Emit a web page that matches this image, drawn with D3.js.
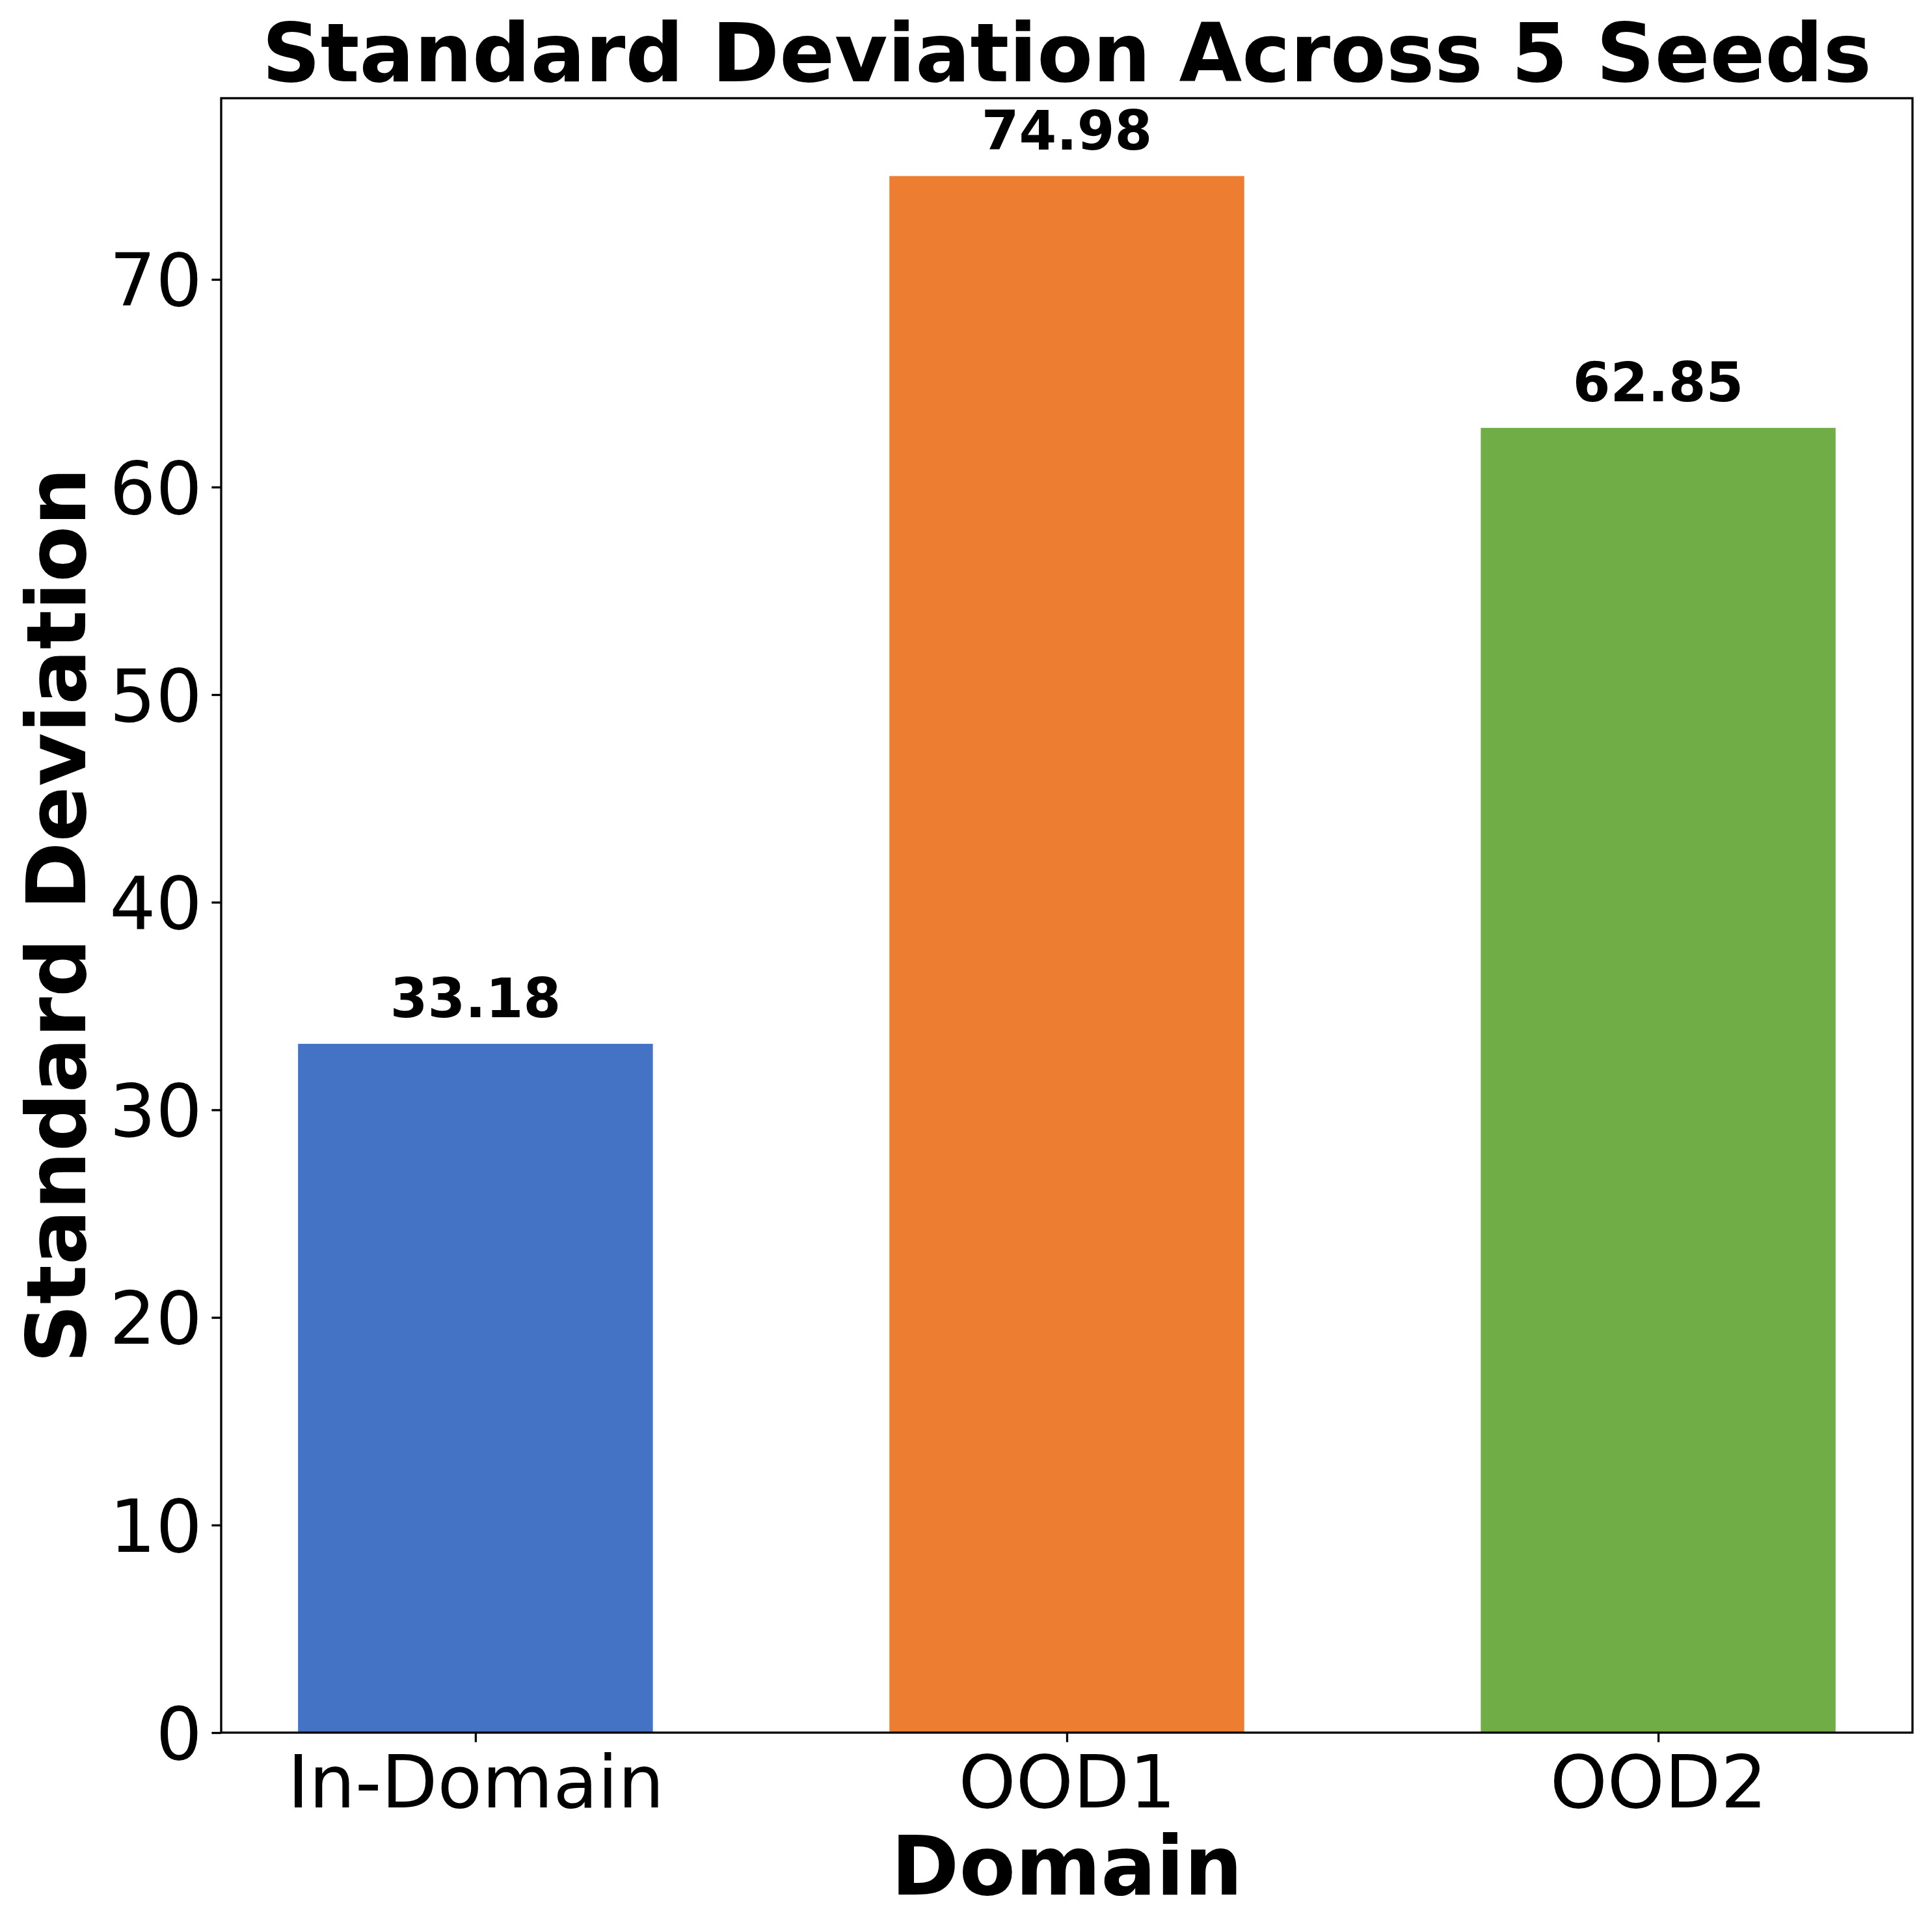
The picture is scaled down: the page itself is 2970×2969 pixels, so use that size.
<!DOCTYPE html>
<html>
<head>
<meta charset="utf-8">
<script src="https://cdn.jsdelivr.net/npm/d3@7"></script>
<style>
  html, body { margin: 0; padding: 0; background: #ffffff; }
  svg { display: block; }
  text { font-family: "DejaVu Sans", sans-serif; fill: #000; }
</style>
</head>
<body>
<script>
const categories = ["In-Domain", "OOD1", "OOD2"];
const values = [33.18, 74.98, 62.85];
const valueLabels = ["33.18", "74.98", "62.85"];
const barColors = ["#4472C4", "#ED7D31", "#70AD47"];
const yTicks = [0, 10, 20, 30, 40, 50, 60, 70];
const titleText = "Standard Deviation Across 5 Seeds";
const xLabel = "Domain";
const yLabel = "Standard Deviation";

const W = 2970, H = 2969;
const plot = { left: 340, right: 2940, top: 151, bottom: 2664 };

const svg = d3.select("body").append("svg")
  .attr("width", W).attr("height", H);
svg.append("rect").attr("width", W).attr("height", H).attr("fill", "#fff");

const barWidth = 0.6;
const idx = categories.map((d, i) => i);
const xMin = -barWidth / 2, xMax = categories.length - 1 + barWidth / 2;
const xPad = (xMax - xMin) * 0.05;
const x = d3.scaleLinear().domain([xMin - xPad, xMax + xPad]).range([plot.left, plot.right]);
const y = d3.scaleLinear().domain([0, d3.max(values) * 1.05]).range([plot.bottom, plot.top]);

// bars
svg.append("g").selectAll("rect").data(values).join("rect")
  .attr("x", (d, i) => x(i - barWidth / 2))
  .attr("width", (d, i) => x(i + barWidth / 2) - x(i - barWidth / 2))
  .attr("y", d => y(d))
  .attr("height", d => y(0) - y(d))
  .attr("fill", (d, i) => barColors[i]);

// value labels
svg.append("g").selectAll("text").data(values).join("text")
  .attr("x", (d, i) => x(i))
  .attr("y", d => y(d) - 41)
  .attr("text-anchor", "middle")
  .attr("font-weight", "bold")
  .attr("font-size", 83)
  .text((d, i) => valueLabels[i]);

// axes
const tickLen = 14.6, tickPad = 14.6, lw = 3.3;
const yAxis = d3.axisLeft(y).tickValues(yTicks).tickFormat(d3.format("d"))
  .tickSize(tickLen).tickPadding(tickPad);
const gy = svg.append("g").attr("transform", `translate(${plot.left},0)`).call(yAxis);
gy.select(".domain").remove();
gy.selectAll(".tick line").attr("stroke", "#000").attr("stroke-width", lw);
gy.selectAll(".tick text").attr("font-size", 112).attr("font-family", "DejaVu Sans").attr("fill", "#000").attr("dy", "0.36em");

const xAxis = d3.axisBottom(x).tickValues(idx).tickFormat(i => categories[i])
  .tickSize(tickLen).tickPadding(tickPad);
const gx = svg.append("g").attr("transform", `translate(0,${plot.bottom})`).call(xAxis);
gx.select(".domain").remove();
gx.selectAll(".tick line").attr("stroke", "#000").attr("stroke-width", lw);
gx.selectAll(".tick text").attr("font-size", 112).attr("font-family", "DejaVu Sans").attr("fill", "#000")
  .attr("dy", null).attr("y", 2779 - plot.bottom);

// frame
svg.append("rect")
  .attr("x", plot.left).attr("y", plot.top)
  .attr("width", plot.right - plot.left).attr("height", plot.bottom - plot.top)
  .attr("fill", "none").attr("stroke", "#000").attr("stroke-width", lw);

// title
svg.append("text").attr("x", (plot.left + plot.right) / 2).attr("y", 125)
  .attr("text-anchor", "middle").attr("font-weight", "bold").attr("font-size", 125)
  .text(titleText);

// x label
svg.append("text").attr("x", (plot.left + plot.right) / 2).attr("y", 2913)
  .attr("text-anchor", "middle").attr("font-weight", "bold").attr("font-size", 126)
  .text(xLabel);

// y label
svg.append("text")
  .attr("transform", `translate(131,${(plot.top + plot.bottom) / 2}) rotate(-90)`)
  .attr("text-anchor", "middle").attr("font-weight", "bold").attr("font-size", 126)
  .text(yLabel);
</script>
</body>
</html>
